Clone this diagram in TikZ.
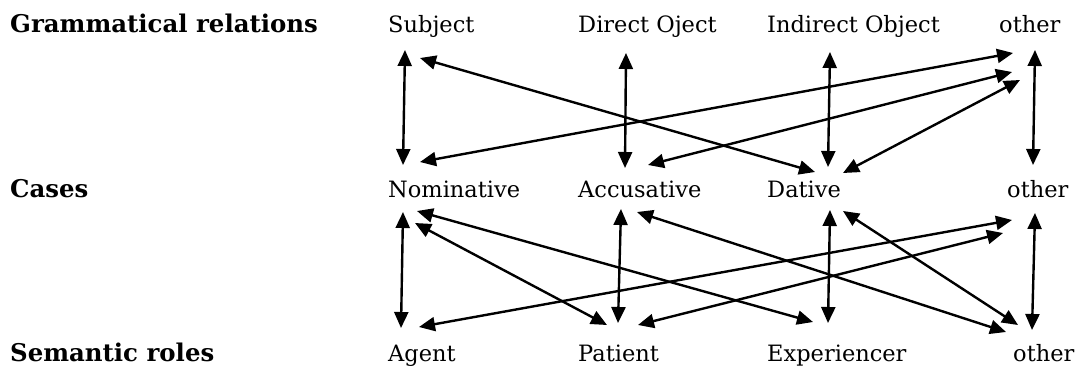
\documentclass[tikz,border=0pt]{standalone}
\usepackage{fontspec}
\setmainfont{DejaVu Serif}
\usetikzlibrary{arrows.meta,calc}
\begin{document}
\begin{tikzpicture}[x=1pt,y=-1pt,
  lbl/.style={inner sep=0pt,anchor=base west,font=\fontsize{22.5}{26}\selectfont},
  head/.style={inner sep=0pt,anchor=base west,font=\fontsize{24.4}{28}\selectfont\bfseries},
  link/.style={line width=2.4pt,{Triangle[length=16pt,width=14pt]}-{Triangle[length=16pt,width=14pt]}}]
\useasboundingbox (0,0) rectangle (1083,369);
% headings
\node[head] (h1) at (10,33) {Grammatical relations};
\node[head] (h2) at (10,197) {Cases};
\node[head] (h3) at (10,361) {Semantic roles};
% row 1
\node[lbl] (subj) at (388,33) {Subject};
\node[lbl] (dobj) at (578,33) {Direct Oject};
\node[lbl] (iobj) at (767,33) {Indirect Object};
\node[lbl] (oth1) at (999,33) {other};
% row 2
\node[lbl] (nom) at (388,197) {Nominative};
\node[lbl] (acc) at (578,197) {Accusative};
\node[lbl] (dat) at (767,197) {Dative};
\node[lbl] (oth2) at (1007,197) {other};
% row 3
\node[lbl] (agt) at (388,361) {Agent};
\node[lbl] (pat) at (578,361) {Patient};
\node[lbl] (exp) at (767,361) {Experiencer};
\node[lbl] (oth3) at (1013,361) {other};
% row 1 - row 2
\draw[link] ($(subj.base west)+(17,17)$) -- ($(nom.base west)+(15,-32)$);
\draw[link] ($(subj.base west)+(32,25)$) -- ($(dat.base west)+(48,-25)$);
\draw[link] ($(dobj.base west)+(48,20)$) -- ($(acc.base west)+(47,-29)$);
\draw[link] ($(nom.base west)+(32,-35)$) -- ($(oth1.base west)+(14,20)$);
\draw[link] ($(acc.base west)+(70,-32)$) -- ($(oth1.base west)+(13,39)$);
\draw[link] ($(dat.base west)+(76,-24)$) -- ($(oth1.base west)+(21,47)$);
\draw[link] ($(iobj.base west)+(63,19)$) -- ($(dat.base west)+(61,-30)$);
\draw[link] ($(oth1.base west)+(36,17)$) -- ($(oth2.base west)+(26,-32)$);
% row 2 - row 3
\draw[link] ($(nom.base west)+(15,15)$) -- ($(agt.base west)+(13,-33)$);
\draw[link] ($(nom.base west)+(29,14)$) -- ($(exp.base west)+(46,-39)$);
\draw[link] ($(nom.base west)+(27,26)$) -- ($(pat.base west)+(29,-36)$);
\draw[link] ($(acc.base west)+(43,12)$) -- ($(pat.base west)+(40,-38)$);
\draw[link] ($(agt.base west)+(31,-34)$) -- ($(oth2.base west)+(5,23)$);
\draw[link] ($(pat.base west)+(60,-36)$) -- ($(oth2.base west)+(-4,36)$);
\draw[link] ($(dat.base west)+(63,13)$) -- ($(exp.base west)+(61,-38)$);
\draw[link] ($(dat.base west)+(76,14)$) -- ($(oth3.base west)+(5,-36)$);
\draw[link] ($(oth2.base west)+(28,16)$) -- ($(oth3.base west)+(19,-31)$);
\draw[link] ($(acc.base west)+(59,15)$) -- ($(oth3.base west)+(-7,-29)$);
\end{tikzpicture}
\end{document}
